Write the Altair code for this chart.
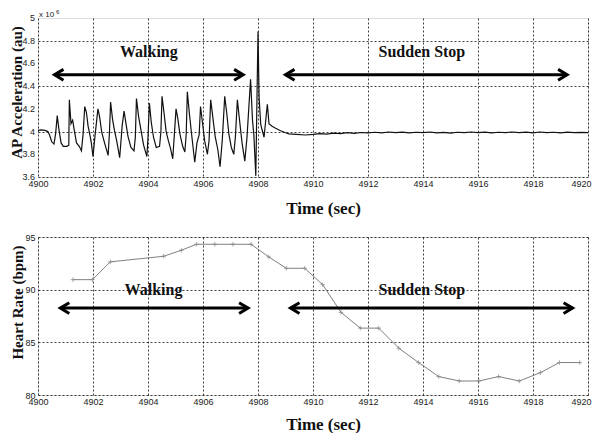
import altair as alt
import pandas as pd

# ---------------- data ----------------
# AP acceleration (x 10^6 au)
ap_time = [
    4900.00, 4900.12, 4900.25, 4900.36, 4900.42, 4900.50, 4900.58, 4900.64, 4900.70, 4900.76,
    4900.84, 4900.92, 4901.05, 4901.12, 4901.14, 4901.20, 4901.26, 4901.32, 4901.40, 4901.50,
    4901.58, 4901.64, 4901.70, 4901.76, 4901.82, 4901.88, 4901.94, 4902.00, 4902.08, 4902.18,
    4902.24, 4902.32, 4902.42, 4902.55, 4902.60, 4902.64, 4902.71, 4902.78, 4902.86, 4902.97,
    4903.06, 4903.13, 4903.18, 4903.27, 4903.38, 4903.49, 4903.54, 4903.58, 4903.66, 4903.74,
    4903.84, 4903.96, 4904.00, 4904.05, 4904.12, 4904.20, 4904.30, 4904.42, 4904.47, 4904.51,
    4904.58, 4904.66, 4904.74, 4904.82, 4904.90, 4904.96, 4905.02, 4905.08, 4905.16, 4905.26,
    4905.34, 4905.39, 4905.43, 4905.50, 4905.58, 4905.64, 4905.70, 4905.78, 4905.86, 4905.91,
    4905.98, 4906.06, 4906.16, 4906.22, 4906.28, 4906.35, 4906.44, 4906.54, 4906.62, 4906.70,
    4906.79, 4906.86, 4906.94, 4907.03, 4907.12, 4907.18, 4907.25, 4907.32, 4907.42, 4907.52,
    4907.60, 4907.73, 4907.80, 4907.85, 4907.92, 4908.00, 4908.04, 4908.10, 4908.22, 4908.34,
    4908.40, 4908.50, 4908.64, 4908.80, 4909.00, 4909.13, 4909.40, 4909.73, 4910.00, 4910.25,
    4910.50, 4910.75, 4911.00, 4911.25, 4911.50, 4911.75, 4912.00, 4912.25, 4912.50, 4912.75,
    4913.00, 4913.25, 4913.50, 4913.75, 4914.00, 4914.25, 4914.50, 4914.75, 4915.00, 4915.25,
    4915.50, 4915.75, 4916.00, 4916.25, 4916.50, 4916.75, 4917.00, 4917.25, 4917.50, 4917.75,
    4918.00, 4918.25, 4918.50, 4918.75, 4919.00, 4919.25, 4919.50, 4919.75, 4920.00,
]
ap_value = [
    4.01, 4.015, 4.01, 4.00, 3.97, 3.91, 3.89, 3.98, 4.14, 4.02,
    3.90, 3.87, 3.87, 3.88, 4.28, 4.07, 4.10, 4.01, 3.90, 3.87,
    3.83, 3.98, 4.22, 4.17, 4.05, 3.98, 3.90, 3.78, 3.98, 4.20,
    4.13, 3.99, 3.90, 3.79, 4.00, 4.26, 4.11, 4.01, 3.92, 3.77,
    4.05, 4.18, 4.10, 3.96, 3.86, 3.83, 3.95, 4.29, 4.13, 4.02,
    3.88, 3.78, 3.95, 4.25, 4.08, 3.95, 3.86, 3.87, 4.00, 4.31,
    4.17, 4.00, 3.92, 3.85, 3.76, 3.98, 4.20, 4.12, 3.98, 3.87,
    3.82, 3.98, 4.35, 4.17, 3.99, 3.86, 3.73, 3.90, 3.97, 4.22,
    4.08, 3.92, 3.80, 3.92, 4.28, 4.14, 3.96, 3.84, 3.69, 3.92,
    4.31, 4.17, 3.98, 3.86, 3.80, 3.96, 4.28, 4.12, 3.90, 3.74,
    3.95, 4.46, 4.10, 3.97, 3.61, 4.88, 4.30, 4.06, 3.95, 4.24,
    4.07, 4.05, 4.03, 4.01, 3.99, 3.98, 3.975, 3.97, 3.975, 3.982,
    3.978, 3.986, 3.982, 3.990, 3.985, 3.992, 3.988, 3.994, 3.989, 3.996,
    3.990, 3.995, 3.988, 3.994, 3.990, 3.996, 3.989, 3.993, 3.987, 3.994,
    3.990, 3.996, 3.991, 3.995, 3.988, 3.994, 3.990, 3.996, 3.991, 3.995,
    3.989, 3.996, 3.990, 3.994, 3.988, 3.995, 3.990, 3.993, 3.990,
]

# Heart rate (bpm)
hr_time = [4901.27, 4901.98, 4902.63, 4904.57, 4905.21, 4905.76, 4906.43, 4907.09, 4907.75,
           4908.39, 4909.03, 4909.70, 4910.35, 4911.02, 4911.72, 4912.39, 4913.12, 4913.84,
           4914.57, 4915.32, 4916.03, 4916.75, 4917.50, 4918.27, 4918.96, 4919.70]
hr_value = [90.95, 90.95, 92.64, 93.17, 93.74, 94.31, 94.31, 94.31, 94.31,
            93.11, 92.03, 92.03, 90.48, 87.84, 86.35, 86.35, 84.44, 83.08,
            81.75, 81.33, 81.33, 81.75, 81.33, 82.12, 83.08, 83.08]

# phase annotations
phase_labels = ["Walking", "Sudden Stop"]
top_arrow_start = [4900.60, 4909.00]
top_arrow_end = [4907.46, 4919.24]
top_arrow_y = [4.50, 4.50]
top_label_x = [4904.03, 4913.96]
top_label_y = [4.70, 4.70]
bot_arrow_start = [4900.81, 4909.18]
bot_arrow_end = [4907.64, 4919.44]
bot_arrow_y = [88.25, 88.25]
bot_label_x = [4904.2, 4913.96]
bot_label_y = [90.0, 90.0]

x_ticks = list(range(4900, 4921, 2))
top_y_ticks = [3.6, 3.8, 4.0, 4.2, 4.4, 4.6, 4.8, 5.0]
top_y_tick_labels = ["3.6", "3.8", "4", "4.2", "4.4", "4.6", "4.8", "5"]
bot_y_ticks = [80, 85, 90, 95]

# ---------------- styling helpers ----------------
SERIF = "Liberation Serif"
SANS = "Liberation Sans"
LEFT_HEAD = "M2,-1.2L0,0L2,1.2"
RIGHT_HEAD = "M-2,-1.2L0,0L-2,1.2"
LAST_TICK = "datum.value >= 4920"

def x_axis(ty):
    return alt.Axis(values=x_ticks, format="d", grid=True, gridDash=[2, 2], gridColor="#000",
                    gridOpacity=0.75, ticks=False, domain=False, labelFont=SANS, labelFontSize=9,
                    labelColor="#222", labelPadding=2, labelFlush=False, labelOverlap=False,
                    labelAlign=alt.condition(LAST_TICK, alt.value("right"), alt.value("center")),
                    labelOffset=alt.condition(LAST_TICK, alt.value(3), alt.value(0)),
                    title="Time (sec)", titleFont=SERIF,
                    titleFontWeight="bold", titleFontSize=17, titleColor="#111",
                    titleX=285, titleY=ty, titleBaseline="middle")

def y_axis(vals, fmt, title, tx, ty, show_labels):
    return alt.Axis(values=vals, format=fmt, grid=True, gridDash=[2, 2], gridColor="#000",
                    gridOpacity=0.75, ticks=False, domain=False, labels=show_labels,
                    labelFont=SANS, labelFontSize=9,
                    labelColor="#222", labelPadding=3, labelFlush=False, labelOverlap=False,
                    title=title, titleFont=SERIF,
                    titleFontWeight="bold", titleFontSize=15, titleColor="#111",
                    titleX=tx, titleY=ty, titleBaseline="middle")

def panel(line_df, y_dom, y_vals, y_fmt, y_title, tx, ty, xty, arrows_df, labels_df,
          line_color, line_width, markers, show_labels):
    xs = alt.Scale(domain=[4900, 4920], nice=False)
    ys = alt.Scale(domain=y_dom, nice=False, zero=False)
    base = alt.Chart(line_df)
    line = base.mark_line(color=line_color, strokeWidth=line_width, clip=True).encode(
        x=alt.X("t:Q", scale=xs, axis=x_axis(xty)),
        y=alt.Y("v:Q", scale=ys, axis=y_axis(y_vals, y_fmt, y_title, tx, ty, show_labels)),
    )
    layers = [line]
    if markers:
        layers.append(base.mark_point(shape="M-1,0L1,0M0,-1L0,1", size=20, filled=False,
                                      color=line_color, strokeWidth=1).encode(
            x=alt.X("t:Q", scale=xs), y=alt.Y("v:Q", scale=ys)))
    ab = alt.Chart(arrows_df)
    layers.append(ab.mark_rule(color="black", strokeWidth=3).encode(
        x=alt.X("x0:Q", scale=xs), x2="x1:Q", y=alt.Y("y:Q", scale=ys)))
    layers.append(ab.mark_point(shape=LEFT_HEAD, size=81, filled=False, color="black",
                                strokeWidth=3, opacity=1).encode(
        x=alt.X("x0:Q", scale=xs), y=alt.Y("y:Q", scale=ys)))
    layers.append(ab.mark_point(shape=RIGHT_HEAD, size=81, filled=False, color="black",
                                strokeWidth=3, opacity=1).encode(
        x=alt.X("x1:Q", scale=xs), y=alt.Y("y:Q", scale=ys)))
    layers.append(alt.Chart(labels_df).mark_text(font=SERIF, fontWeight="bold", fontSize=16,
                                                 color="#111", baseline="middle").encode(
        x=alt.X("x:Q", scale=xs), y=alt.Y("y:Q", scale=ys), text="label:N"))
    return layers, ys

ap_df = pd.DataFrame({"t": ap_time, "v": ap_value})
hr_df = pd.DataFrame({"t": hr_time, "v": hr_value})
top_arrows = pd.DataFrame({"x0": top_arrow_start, "x1": top_arrow_end, "y": top_arrow_y})
top_labels = pd.DataFrame({"x": top_label_x, "y": top_label_y, "label": phase_labels})
bot_arrows = pd.DataFrame({"x0": bot_arrow_start, "x1": bot_arrow_end, "y": bot_arrow_y})
bot_labels = pd.DataFrame({"x": bot_label_x, "y": bot_label_y, "label": phase_labels})

top_layers, top_ys = panel(ap_df, [3.6, 5.0], top_y_ticks, "~g", "AP Acceleration (au)", -22, 74,
                           31, top_arrows, top_labels, "#111", 1.2, False, False)
# y tick labels of the top panel, drawn as text at the scale's tick positions
top_layers.append(alt.Chart(pd.DataFrame({"v": top_y_ticks, "s": top_y_tick_labels})).mark_text(
    font=SANS, fontSize=9, align="right", baseline="middle", color="#222", dx=-3).encode(
    x=alt.value(0), y=alt.Y("v:Q", scale=top_ys), text="s:N"))
# exponent note "x 10^6"
top_layers.append(alt.Chart(pd.DataFrame({"s": ["x 10"]})).mark_text(
    font=SANS, fontSize=8, align="left", baseline="alphabetic", color="#222").encode(
    x=alt.value(1), y=alt.value(-1.5), text="s:N"))
top_layers.append(alt.Chart(pd.DataFrame({"s": ["6"]})).mark_text(
    font=SANS, fontSize=6, align="left", baseline="alphabetic", color="#222").encode(
    x=alt.value(18), y=alt.value(-4.5), text="s:N"))

top = alt.layer(*top_layers).properties(width=550, height=159)

bot_layers, _ = panel(hr_df, [80, 95], bot_y_ticks, "d", "Heart Rate (bpm)", -21, 65, 29,
                      bot_arrows, bot_labels, "#808080", 1, True, True)
bottom = alt.layer(*bot_layers).properties(width=550, height=158)

chart = alt.vconcat(top, bottom, spacing=15).properties(padding=0).configure_view(
    stroke="black", strokeWidth=1).configure(background="white")

chart.save("out.html", embed_options={"renderer": "svg", "actions": False})
